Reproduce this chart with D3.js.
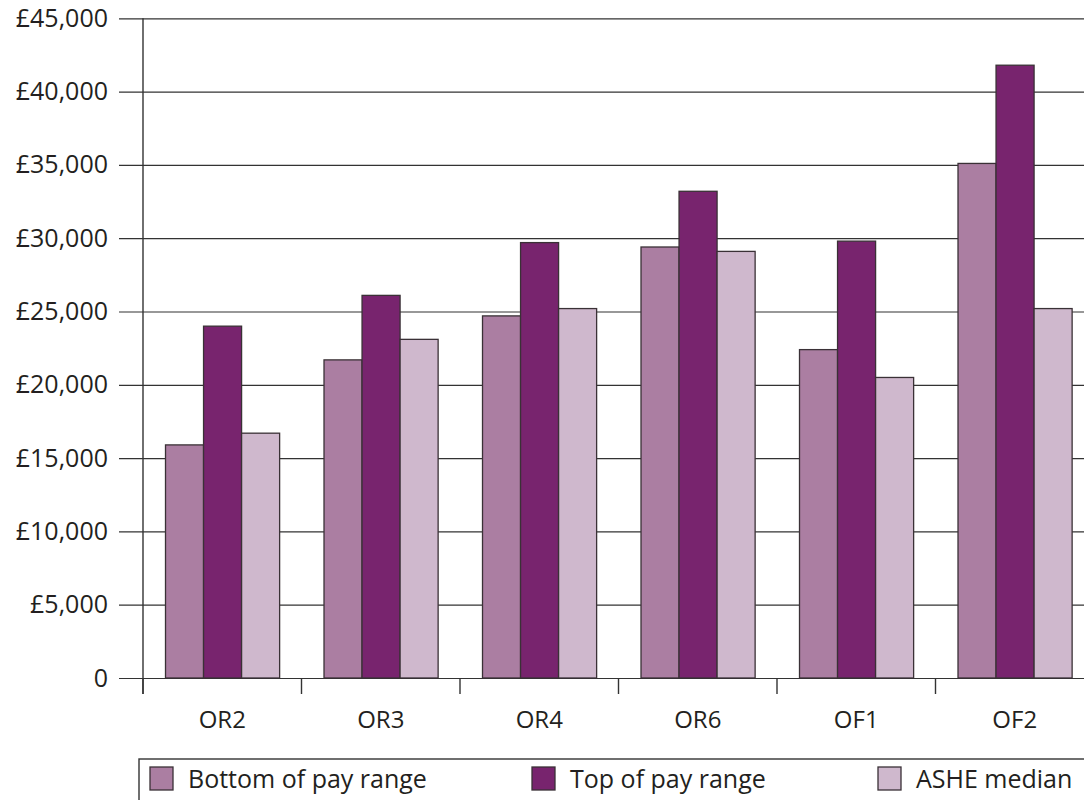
<!DOCTYPE html>
<html>
<head>
<meta charset="utf-8">
<script src="https://cdn.jsdelivr.net/npm/d3@7/dist/d3.min.js"></script>
<style>
  html, body { margin: 0; padding: 0; background: #fff; }
  svg { display: block; }
  text { font-family: "Open Sans", "Noto Sans", sans-serif; fill: #231f20; }
</style>
</head>
<body>
<svg id="chart" width="1084" height="800"></svg>
<script>
// Pay grades along the x axis
const categories = ["OR2", "OR3", "OR4", "OR6", "OF1", "OF2"];

// Annual pay (£) for each grade
const seriesNames = ["Bottom of pay range", "Top of pay range", "ASHE median"];
const bottomOfRange = [15900, 21700, 24700, 29400, 22400, 35100];
const topOfRange    = [24000, 26100, 29700, 33200, 29800, 41800];
const asheMedian    = [16700, 23100, 25200, 29100, 20500, 25200];

const yTicks = [0, 5000, 10000, 15000, 20000, 25000, 30000, 35000, 40000, 45000];
const colors = ["#ab7ea2", "#78246e", "#cfb8cd"];

const seriesValues = [bottomOfRange, topOfRange, asheMedian];
const rows = categories.map((c, i) => ({
  cat: c,
  vals: seriesNames.map((s, k) => ({ key: s, value: seriesValues[k][i] }))
}));

const svg = d3.select("#chart");
const plotLeft = 143, plotRight = 1094, plotTop = 18.3, plotBottom = 678;
const fontFamily = "'Open Sans', 'Noto Sans', sans-serif";

const x = d3.scaleBand().domain(categories).range([plotLeft, plotRight]).padding(0);
const x1 = d3.scaleBand().domain(seriesNames)
  .range([x.bandwidth() * 0.142, x.bandwidth() * 0.862]).padding(0);
const y = d3.scaleLinear().domain([0, 45000]).range([plotBottom, plotTop]);

const fmt = v => v === 0 ? "0" : "£" + d3.format(",")(v);

// Horizontal gridlines with outward ticks
const yAxis = d3.axisLeft(y).tickValues(yTicks).tickFormat(fmt)
  .tickSize(-(1084 - plotLeft + 10)).tickPadding(11);
const gy = svg.append("g").attr("transform", `translate(${plotLeft},0)`).call(yAxis);
gy.select(".domain").remove();
gy.selectAll(".tick line")
  .attr("x1", -24)
  .attr("stroke", "#333").attr("stroke-width", 1.2);
gy.selectAll(".tick text")
  .attr("x", -35)
  .style("font-size", "25px")
  .style("font-family", fontFamily)
  .attr("fill", "#231f20");

// Bars
const groups = svg.append("g").selectAll("g").data(rows).join("g")
  .attr("transform", d => `translate(${x(d.cat)},0)`);
groups.selectAll("rect").data(d => d.vals).join("rect")
  .attr("x", d => x1(d.key))
  .attr("width", x1.bandwidth())
  .attr("y", d => y(d.value))
  .attr("height", d => y(0) - y(d.value))
  .attr("fill", (d, i) => colors[i])
  .attr("stroke", "#3a3136")
  .attr("stroke-width", 1.3);

// Category labels
const xAxis = d3.axisBottom(x).tickSize(0).tickPadding(33);
const gx = svg.append("g").attr("transform", `translate(0,${plotBottom})`).call(xAxis);
gx.select(".domain").remove();
gx.selectAll(".tick text")
  .style("font-size", "24px")
  .style("font-family", fontFamily)
  .attr("fill", "#231f20");

// Category boundary ticks
svg.append("g").selectAll("line")
  .data(categories.map(c => x(c)).concat([plotRight]))
  .join("line")
  .attr("x1", d => d).attr("x2", d => d)
  .attr("y1", plotBottom).attr("y2", plotBottom + 16)
  .attr("stroke", "#333").attr("stroke-width", 1.4);

// Vertical axis line
svg.append("line")
  .attr("x1", plotLeft).attr("x2", plotLeft)
  .attr("y1", plotTop).attr("y2", plotBottom + 16)
  .attr("stroke", "#333").attr("stroke-width", 1.4);

// Legend
const legend = svg.append("g");
legend.append("rect")
  .attr("x", 139).attr("y", 759).attr("width", 1000).attr("height", 60)
  .attr("fill", "none").attr("stroke", "#333").attr("stroke-width", 1.4);
const legendX = [150, 532, 878];
const items = legend.selectAll("g.item").data(seriesNames).join("g")
  .attr("class", "item")
  .attr("transform", (d, i) => `translate(${legendX[i]},767)`);
items.append("rect")
  .attr("width", 23).attr("height", 23)
  .attr("fill", (d, i) => colors[i])
  .attr("stroke", "#3a3136").attr("stroke-width", 1.3);
items.append("text")
  .attr("x", 38).attr("y", 12).attr("dy", "0.35em")
  .style("font-size", "25px")
  .style("font-family", fontFamily)
  .text(d => d);
</script>
</body>
</html>
